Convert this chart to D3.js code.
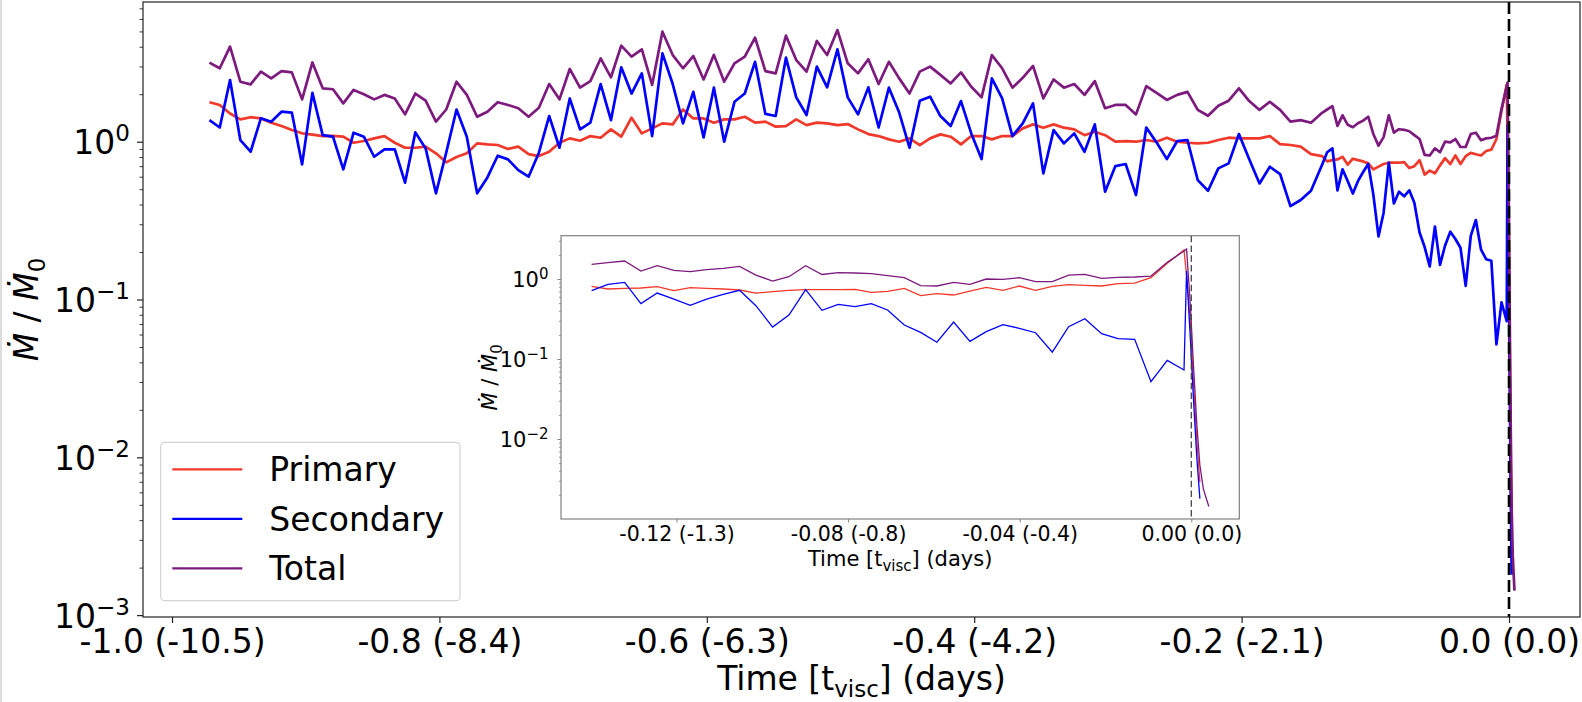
<!DOCTYPE html>
<html>
<head>
<meta charset="utf-8">
<script src="https://cdnjs.cloudflare.com/ajax/libs/d3/7.8.5/d3.min.js"></script>
<style>
  body { margin: 0; background: #fff; }
  svg { display: block; }
  text { font-family: "DejaVu Sans", sans-serif; fill: #000; }
</style>
</head>
<body>
<script>
// Time in units of t_visc (sampled output of the run)
const time = [
  -0.9720, -0.9643, -0.9566, -0.9489, -0.9412, -0.9335, -0.9258, -0.9181, -0.9104, -0.9027,
  -0.8950, -0.8873, -0.8796, -0.8719, -0.8642, -0.8565, -0.8488, -0.8411, -0.8334, -0.8257,
  -0.8180, -0.8103, -0.8026, -0.7949, -0.7872, -0.7795, -0.7718, -0.7641, -0.7564, -0.7487,
  -0.7410, -0.7333, -0.7256, -0.7179, -0.7102, -0.7025, -0.6948, -0.6871, -0.6794, -0.6717,
  -0.6640, -0.6563, -0.6486, -0.6409, -0.6332, -0.6255, -0.6178, -0.6101, -0.6024, -0.5947,
  -0.5870, -0.5793, -0.5716, -0.5639, -0.5562, -0.5485, -0.5408, -0.5331, -0.5254, -0.5177,
  -0.5100, -0.5023, -0.4946, -0.4869, -0.4792, -0.4715, -0.4638, -0.4561, -0.4484, -0.4407,
  -0.4330, -0.4253, -0.4176, -0.4099, -0.4022, -0.3945, -0.3868, -0.3791, -0.3714, -0.3637,
  -0.3560, -0.3483, -0.3406, -0.3329, -0.3252, -0.3175, -0.3098, -0.3021, -0.2944, -0.2867,
  -0.2790, -0.2713, -0.2636, -0.2559, -0.2482, -0.2405, -0.2328, -0.2251, -0.2174, -0.2097,
  -0.2020, -0.1943, -0.1866, -0.1789, -0.1712, -0.1635, -0.1558, -0.1481,
  -0.1398, -0.1360, -0.1321, -0.1283, -0.1245, -0.1206, -0.1168, -0.1130, -0.1091, -0.1053,
  -0.1015, -0.0976, -0.0938, -0.0899, -0.0861, -0.0823, -0.0784, -0.0746, -0.0708, -0.0669,
  -0.0631, -0.0593, -0.0554, -0.0516, -0.0478, -0.0439, -0.0401, -0.0363, -0.0324, -0.0286,
  -0.0248, -0.0209, -0.0171, -0.0132, -0.0094, -0.0056, -0.0017,
  -0.0011, -0.0002, 0.0005, 0.0013, 0.0020, 0.0028, 0.0036, 0.0041
];

const primary = [
  1.78, 1.71, 1.51, 1.385, 1.43, 1.405, 1.32, 1.257, 1.185, 1.13,
  1.11, 1.086, 1.09, 1.076, 0.985, 1.01, 1.05, 1.086, 0.985, 0.916,
  0.916, 0.93, 0.844, 0.74, 0.80, 0.844, 0.976, 0.962, 0.953, 0.90,
  0.93, 0.835, 0.811, 0.864, 0.985, 1.05, 1.015, 1.086, 1.06, 1.197,
  1.076, 1.42, 1.129, 1.215, 1.307, 1.288, 1.60, 1.405, 1.405, 1.32,
  1.385, 1.385, 1.44, 1.32, 1.34, 1.245, 1.257, 1.385, 1.275, 1.32,
  1.307, 1.275, 1.294, 1.197, 1.118, 1.086, 1.035, 1.0, 1.05, 0.953,
  1.05, 1.113, 1.076, 0.962, 1.086, 1.086, 1.035, 1.086, 1.086, 1.215,
  1.288, 1.227, 1.288, 1.227, 1.197, 1.10, 1.157, 1.10, 1.0, 1.01,
  1.0, 1.025, 1.0, 1.06, 1.0, 0.985, 0.976, 0.985, 1.025, 1.06,
  1.05, 1.05, 1.05, 1.086, 0.966, 0.953, 0.93, 0.835,
  0.81, 0.75, 0.764, 0.772, 0.802, 0.715, 0.78, 0.764, 0.75, 0.729,
  0.668, 0.695, 0.722, 0.736, 0.736, 0.736, 0.743, 0.681, 0.70, 0.764,
  0.619, 0.656, 0.631, 0.708, 0.787, 0.722, 0.818, 0.722, 0.81, 0.85,
  0.833, 0.818, 0.874, 0.891, 1.04, 1.57, 2.30,
  1.10, 0.28, 0.052, 0.0093, 0.0029, null, null, null
];

const secondary = [
  1.37, 1.23, 2.46, 1.025, 0.864, 1.41, 1.34, 1.55, 1.53, 0.718,
  2.04, 1.10, 1.076, 0.668, 1.14, 1.076, 0.803, 0.894, 0.896, 0.55,
  1.146, 0.907, 0.471, 0.852, 1.60, 1.076, 0.471, 0.594, 0.815, 0.773,
  0.661, 0.60, 0.852, 1.455, 0.916, 1.88, 1.197, 1.32, 2.32, 1.37,
  2.96, 2.02, 2.71, 1.086, 3.63, 2.32, 1.307, 2.07, 1.065, 2.2,
  1.0, 1.79, 2.02, 3.21, 1.50, 1.455, 3.41, 1.91, 1.476, 2.99,
  2.21, 3.85, 1.91, 1.49, 2.21, 1.23, 2.20, 1.53, 0.916, 1.82,
  1.93, 1.455, 1.257, 1.81, 1.129, 0.776, 2.52, 1.88, 1.086, 1.307,
  1.75, 0.63, 1.185, 0.976, 1.129, 0.864, 1.288, 0.482, 0.701, 0.722,
  0.459, 1.23, 0.99, 0.776, 1.01, 1.025, 0.571, 0.489, 0.678, 0.729,
  1.118, 0.773, 0.544, 0.694, 0.624, 0.391, 0.427, 0.489,
  0.715, 0.858, 0.908, 0.492, 0.668, 0.562, 0.469, 0.562, 0.643, 0.722,
  0.464, 0.251, 0.355, 0.736, 0.406, 0.482, 0.451, 0.492, 0.41, 0.266,
  0.215, 0.162, 0.29, 0.166, 0.22, 0.269, 0.242, 0.213, 0.122, 0.253,
  0.319, 0.207, 0.18, 0.176, 0.052, 0.096, 0.073,
  1.27, 0.17, 0.032, 0.0057, 0.0018, null, null, null
];

const total = [
  3.17, 2.92, 4.00, 2.40, 2.31, 2.78, 2.52, 2.80, 2.75, 1.855,
  3.18, 2.18, 2.15, 1.75, 2.13, 2.00, 1.855, 1.98, 1.88, 1.49,
  2.02, 1.82, 1.34, 1.60, 2.40, 1.98, 1.44, 1.55, 1.78, 1.71,
  1.63, 1.44, 1.64, 2.32, 1.855, 2.89, 2.20, 2.42, 3.37, 2.56,
  4.06, 3.46, 3.85, 2.29, 4.98, 3.54, 2.92, 3.49, 2.48, 3.55,
  2.40, 3.14, 3.46, 4.56, 2.80, 2.71, 4.70, 3.29, 2.78, 4.35,
  3.54, 5.10, 3.14, 2.71, 3.33, 2.32, 3.21, 2.52, 2.02, 2.78,
  2.99, 2.65, 2.34, 2.75, 2.23, 1.91, 3.54, 2.92, 2.20, 2.54,
  3.02, 1.88, 2.48, 2.20, 2.32, 1.98, 2.42, 1.63, 1.71, 1.71,
  1.49, 2.25, 2.04, 1.84, 1.98, 2.07, 1.59, 1.46, 1.69, 1.82,
  2.18, 1.81, 1.59, 1.79, 1.59, 1.34, 1.37, 1.32,
  1.525, 1.60, 1.68, 1.26, 1.47, 1.28, 1.235, 1.31, 1.36, 1.44,
  1.12, 0.944, 1.07, 1.47, 1.14, 1.20, 1.19, 1.166, 1.10, 1.04,
  0.825, 0.818, 0.908, 0.858, 1.0, 0.99, 1.04, 0.926, 0.926, 1.12,
  1.14, 1.02, 1.05, 1.06, 1.09, 1.615, 2.24,
  2.37, 0.45, 0.084, 0.015, 0.0047, 0.0024, 0.00173, 0.00143
];

const seriesNames = ["Primary", "Secondary", "Total"];
const seriesColors = ["#f0392b", "#0000ff", "#7d1a7d"];

const mainXTicks = [-1.0, -0.8, -0.6, -0.4, -0.2, 0.0];
const mainXTickLabels = ["-1.0 (-10.5)", "-0.8 (-8.4)", "-0.6 (-6.3)", "-0.4 (-4.2)", "-0.2 (-2.1)", "0.0 (0.0)"];
const mainYTicks = [1e-3, 1e-2, 1e-1, 1];
const mainYExponents = ["\u22123", "\u22122", "\u22121", "0"];

const insetXTicks = [-0.12, -0.08, -0.04, 0.0];
const insetXTickLabels = ["-0.12 (-1.3)", "-0.08 (-0.8)", "-0.04 (-0.4)", "0.00 (0.0)"];
const insetYTicks = [1e-2, 1e-1, 1];
const insetYExponents = ["\u22122", "\u22121", "0"];
const insetStart = -0.1400;

const width = 1582, height = 702;
const svg = d3.select("body").append("svg")
    .attr("width", width)
    .attr("height", height);

// thin grey strip on the left edge of the screenshot
svg.append("rect").attr("x", 0).attr("y", 0).attr("width", 2).attr("height", height).attr("fill", "#dcdcdc");

// minor log ticks: 2..9 times each decade inside the domain
function minorTicks(domain) {
    const out = [];
    for (let e = -4; e <= 1; e++) {
        for (let m = 2; m <= 9; m++) {
            const v = m * Math.pow(10, e);
            if (v > domain[0] && v < domain[1]) out.push(v);
        }
    }
    return out;
}

const series = seriesNames.map((name, k) => ({
    name: name,
    color: seriesColors[k],
    values: time.map((t, i) => [t, [primary, secondary, total][k][i]])
}));

// ---------------- main axes ----------------
const M = { left: 143, right: 1580, top: 2, bottom: 617 };
const x = d3.scaleLinear().domain([-1.0217, 0.0531]).range([M.left, M.right]);
const yDomain = [9.73e-4, 7.68];
const y = d3.scaleLog().domain(yDomain).range([M.bottom, M.top]);

svg.append("clipPath").attr("id", "main-clip")
    .append("rect")
    .attr("x", M.left).attr("y", M.top)
    .attr("width", M.right - M.left).attr("height", M.bottom - M.top);

const mainLine = d3.line()
    .defined(d => d[1] != null)
    .x(d => x(d[0]))
    .y(d => y(d[1]));

const mainLines = svg.append("g").attr("clip-path", "url(#main-clip)");
series.forEach(s => {
    mainLines.append("path")
        .datum(s.values)
        .attr("fill", "none")
        .attr("stroke", s.color)
        .attr("stroke-width", 2.7)
        .attr("stroke-linejoin", "round")
        .attr("d", mainLine);
});

// merger time marker
mainLines.append("line")
    .attr("x1", x(0)).attr("x2", x(0))
    .attr("y1", M.top).attr("y2", M.bottom)
    .attr("stroke", "#000")
    .attr("stroke-width", 2.6)
    .attr("stroke-dasharray", "12,5");

// x axis
const xAxis = svg.append("g")
    .attr("transform", `translate(0,${M.bottom})`)
    .call(d3.axisBottom(x)
        .tickValues(mainXTicks)
        .tickSize(6)
        .tickPadding(6.5)
        .tickFormat((d, i) => mainXTickLabels[i]));
xAxis.select(".domain").remove();
xAxis.selectAll(".tick line").attr("stroke", "#222").attr("stroke-width", 1.2);
xAxis.selectAll(".tick text").attr("font-size", 33).attr("font-family", "DejaVu Sans");

// y axis (major + minor)
const yAxis = svg.append("g")
    .attr("transform", `translate(${M.left},0)`)
    .call(d3.axisLeft(y).tickValues(mainYTicks).tickSize(6).tickPadding(7).tickFormat(""));
yAxis.select(".domain").remove();
yAxis.selectAll(".tick line").attr("stroke", "#222").attr("stroke-width", 1.2);
yAxis.selectAll(".tick text").each(function(d, i) {
    const t = d3.select(this)
        .attr("font-size", 33)
        .attr("font-family", "DejaVu Sans")
        .attr("dy", null)
        .attr("y", 12);
    t.append("tspan").text("10");
    t.append("tspan").attr("dy", -13).attr("font-size", 23).text(mainYExponents[i]);
});

const yMinor = svg.append("g")
    .attr("transform", `translate(${M.left},0)`)
    .call(d3.axisLeft(y).tickValues(minorTicks(yDomain)).tickSize(3.5).tickFormat(""));
yMinor.select(".domain").remove();
yMinor.selectAll(".tick line").attr("stroke", "#222").attr("stroke-width", 0.9);

// frame
svg.append("rect")
    .attr("x", M.left).attr("y", M.top)
    .attr("width", M.right - M.left).attr("height", M.bottom - M.top)
    .attr("fill", "none")
    .attr("stroke", "#222")
    .attr("stroke-width", 1.2);

// axis labels
const xLabel = svg.append("text")
    .attr("x", (M.left + M.right) / 2)
    .attr("y", 690)
    .attr("text-anchor", "middle")
    .attr("font-size", 33);
xLabel.append("tspan").text("Time [t");
xLabel.append("tspan").attr("font-size", 23).attr("dy", 7).text("visc");
xLabel.append("tspan").attr("dy", -7).text("] (days)");

const yLabel = svg.append("text")
    .attr("transform", `translate(38,${(M.top + M.bottom) / 2}) rotate(-90)`)
    .attr("text-anchor", "middle")
    .attr("font-size", 33);
yLabel.append("tspan").attr("font-style", "italic").text("\u1E40");
yLabel.append("tspan").text(" / ");
yLabel.append("tspan").attr("font-style", "italic").text("\u1E40");
yLabel.append("tspan").attr("font-size", 23).attr("dy", 7).text("0");

// legend
const legend = svg.append("g");
legend.append("rect")
    .attr("x", 160.7).attr("y", 442.3)
    .attr("width", 299.3).attr("height", 158.4)
    .attr("rx", 4).attr("ry", 4)
    .attr("fill", "#fff").attr("fill-opacity", 0.8)
    .attr("stroke", "#d4d4d4").attr("stroke-width", 1.2);
series.forEach((s, k) => {
    const ly = 469.3 + k * 49.5;
    legend.append("line")
        .attr("x1", 172.3).attr("x2", 242.3)
        .attr("y1", ly).attr("y2", ly)
        .attr("stroke", s.color).attr("stroke-width", 2.2);
    legend.append("text")
        .attr("x", 269.3).attr("y", ly + 12)
        .attr("font-size", 33)
        .text(s.name);
});

// ---------------- inset: zoom on the last part ----------------
const I = { left: 561, right: 1239.3, top: 235.7, bottom: 519 };
const xi = d3.scaleLinear().domain([-0.14693, 0.01119]).range([I.left, I.right]);
const yiDomain = [1e-3, 3.48];
const yi = d3.scaleLog().domain(yiDomain).range([I.bottom, I.top]);

const inset = svg.append("g");
inset.append("rect")
    .attr("x", I.left).attr("y", I.top)
    .attr("width", I.right - I.left).attr("height", I.bottom - I.top)
    .attr("fill", "#fff");

svg.append("clipPath").attr("id", "inset-clip")
    .append("rect")
    .attr("x", I.left).attr("y", I.top)
    .attr("width", I.right - I.left).attr("height", I.bottom - I.top);

const insetLine = d3.line()
    .defined(d => d[1] != null)
    .x(d => xi(d[0]))
    .y(d => yi(d[1]));

const insetLines = inset.append("g").attr("clip-path", "url(#inset-clip)");
series.forEach(s => {
    insetLines.append("path")
        .datum(s.values.filter(d => d[0] >= insetStart))
        .attr("fill", "none")
        .attr("stroke", s.color)
        .attr("stroke-width", 1.3)
        .attr("d", insetLine);
});
insetLines.append("line")
    .attr("x1", xi(0)).attr("x2", xi(0))
    .attr("y1", I.top).attr("y2", I.bottom)
    .attr("stroke", "#444")
    .attr("stroke-width", 1.3)
    .attr("stroke-dasharray", "6.5,3.3");

const xiAxis = inset.append("g")
    .attr("transform", `translate(0,${I.bottom})`)
    .call(d3.axisBottom(xi)
        .tickValues(insetXTicks)
        .tickSize(3.5)
        .tickPadding(4)
        .tickFormat((d, i) => insetXTickLabels[i]));
xiAxis.select(".domain").remove();
xiAxis.selectAll(".tick line").attr("stroke", "#808080").attr("stroke-width", 1);
xiAxis.selectAll(".tick text").attr("font-size", 20.5).attr("font-family", "DejaVu Sans");

const yiAxis = inset.append("g")
    .attr("transform", `translate(${I.left},0)`)
    .call(d3.axisLeft(yi).tickValues(insetYTicks).tickSize(3.5).tickPadding(9).tickFormat(""));
yiAxis.select(".domain").remove();
yiAxis.selectAll(".tick line").attr("stroke", "#808080").attr("stroke-width", 1);
yiAxis.selectAll(".tick text").each(function(d, i) {
    const t = d3.select(this)
        .attr("font-size", 21)
        .attr("font-family", "DejaVu Sans")
        .attr("dy", null)
        .attr("y", 7.6);
    t.append("tspan").text("10");
    t.append("tspan").attr("dy", -8.5).attr("font-size", 15).text(insetYExponents[i]);
});

const yiMinor = inset.append("g")
    .attr("transform", `translate(${I.left},0)`)
    .call(d3.axisLeft(yi).tickValues(minorTicks(yiDomain)).tickSize(2).tickFormat(""));
yiMinor.select(".domain").remove();
yiMinor.selectAll(".tick line").attr("stroke", "#808080").attr("stroke-width", 0.8);

inset.append("rect")
    .attr("x", I.left).attr("y", I.top)
    .attr("width", I.right - I.left).attr("height", I.bottom - I.top)
    .attr("fill", "none")
    .attr("stroke", "#808080")
    .attr("stroke-width", 1.2);

const xiLabel = inset.append("text")
    .attr("x", (I.left + I.right) / 2)
    .attr("y", 566)
    .attr("text-anchor", "middle")
    .attr("font-size", 21);
xiLabel.append("tspan").text("Time [t");
xiLabel.append("tspan").attr("font-size", 15).attr("dy", 4.5).text("visc");
xiLabel.append("tspan").attr("dy", -4.5).text("] (days)");

const yiLabel = inset.append("text")
    .attr("transform", `translate(497,${(I.top + I.bottom) / 2}) rotate(-90)`)
    .attr("text-anchor", "middle")
    .attr("font-size", 21);
yiLabel.append("tspan").attr("font-style", "italic").text("\u1E40");
yiLabel.append("tspan").text(" / ");
yiLabel.append("tspan").attr("font-style", "italic").text("\u1E40");
yiLabel.append("tspan").attr("font-size", 15).attr("dy", 4.5).text("0");
</script>
</body>
</html>
